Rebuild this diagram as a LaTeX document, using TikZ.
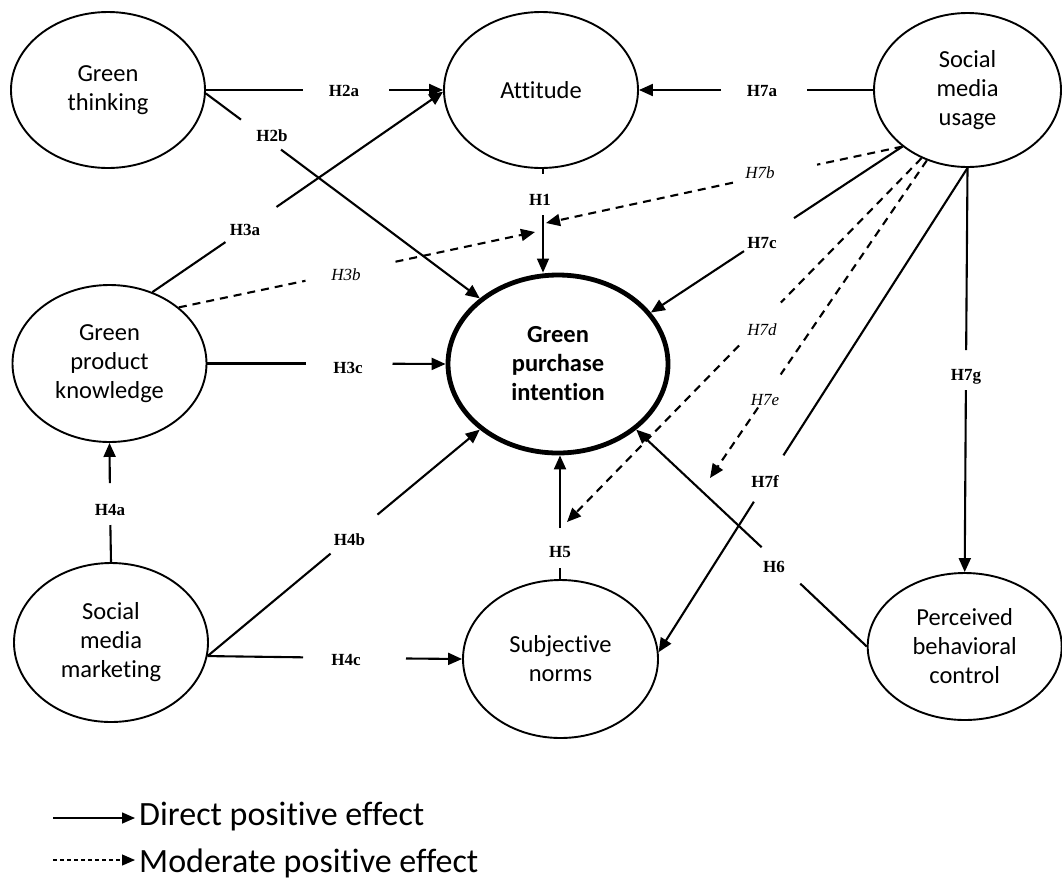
\documentclass[tikz,border=0pt]{standalone}
\usepackage{fontspec}
\setmainfont{Carlito}[Ligatures=NoCommon]
\newfontfamily\labfont{Liberation Serif}
\usetikzlibrary{arrows.meta,shapes.geometric}
\begin{document}
\begin{tikzpicture}[x=1pt,y=-1pt,
  cons/.style={draw, ellipse, line width=1.9pt, inner sep=0pt, align=center, font=\fontsize{24.5}{29}\selectfont},
  gapc/.style={circle, inner sep=0pt, outer sep=0pt, minimum size={2*#1pt}},
  lbl/.style={font=\labfont\bfseries\fontsize{17}{18}\selectfont, inner sep=0pt},
  lbli/.style={font=\labfont\itshape\fontsize{17}{18}\selectfont, inner sep=0pt},
  link/.style={line width=2.1pt},
  arr/.style={link, -{Triangle[length=14pt,width=12pt]}},
  dsh/.style={line width=2.1pt, dash pattern=on 8pt off 6pt},
  darr/.style={dsh, -{Triangle[length=14pt,width=12pt]}},
  legtxt/.style={anchor=base west, inner sep=0pt, font=\fontsize{34}{40}\selectfont}
]
\fill[white] (0,0) rectangle (1062,879);
\useasboundingbox (0,0) rectangle (1062,879);

% constructs
\node[cons, minimum width=194pt, minimum height=156pt] (gt) at (108,90) {Green\\thinking};
\node[cons, minimum width=194pt, minimum height=156pt] (att) at (541,90) {Attitude};
\node[cons, minimum width=187pt, minimum height=154pt] (smu) at (967.5,90) {Social\\media\\usage};
\node[cons, minimum width=194pt, minimum height=157pt] (gpk) at (109.5,363.5) {Green\\product\\knowledge};
\node[cons, line width=4.8pt, minimum width=220pt, minimum height=178pt, font={\fontsize{24.5}{29}\selectfont\bfseries}] (gpi) at (558,364) {Green\\purchase\\intention};
\node[cons, minimum width=194pt, minimum height=159pt] (smm) at (111,642.5) {Social\\media\\marketing};
\node[cons, minimum width=195pt, minimum height=158pt] (sn) at (560.5,659) {Subjective\\norms};
\node[cons, minimum width=194pt, minimum height=147pt] (pbc) at (964.7,646.5) {Perceived\\behavioral\\control};

% gaps in the connectors
\node[gapc=43] (g2a) at (346,90) {};
\node[gapc=25] (g2b) at (261,134.6) {};
\node[gapc=31] (g3a) at (251,224.6) {};
\node[gapc=46] (g3b) at (350.5,271.3) {};
\node[gapc=20.5] (g1) at (543,194.5) {};
\node[gapc=43] (g7a) at (764,90) {};
\node[gapc=43] (g7b) at (775,173.6) {};
\node[gapc=30] (g7c) at (769,234.6) {};
\node[gapc=30] (g7d) at (760,324) {};
\node[gapc=20] (g7e) at (769.4,391) {};
\node[gapc=27.5] (g7f) at (768.6,478.5) {};
\node[gapc=20] (g7g) at (966,370) {};
\node[gapc=43.5] (g3c) at (349,363.5) {};
\node[gapc=21] (g4a) at (110,504) {};
\node[gapc=30.5] (g4b) at (354,534.1) {};
\node[gapc=51.5] (g4c) at (354.5,658) {};
\node[gapc=20] (g5) at (560,548) {};
\node[gapc=26.5] (g6) at (781,565.4) {};

% labels
\node[lbl] (t2a) at (344,91) {H2a};
\node[lbl] (t2b) at (272,136) {H2b};
\node[lbl] (t3a) at (245,230) {H3a};
\node[lbli] (t3b) at (346,275) {H3b};
\node[lbl] (t1) at (540,200) {H1};
\node[lbl] (t7a) at (762,91) {H7a};
\node[lbli] (t7b) at (760,173) {H7b};
\node[lbl] (t7c) at (762,243) {H7c};
\node[lbli] (t7d) at (762,330) {H7d};
\node[lbli] (t7e) at (765,400) {H7e};
\node[lbl] (t7f) at (765,482) {H7f};
\node[lbl] (t7g) at (966,377) {H7g};
\node[lbl] (t3c) at (348,368) {H3c};
\node[lbl] (t4a) at (110,510) {H4a};
\node[lbl] (t4b) at (349.5,540) {H4b};
\node[lbl] (t4c) at (346,660) {H4c};
\node[lbl] (t5) at (560,552) {H5};
\node[lbl] (t6) at (774,567) {H6};

% moderation targets
\coordinate (m1a) at (535,232);
\coordinate (m1b) at (546,223);
\coordinate (m5) at (567,522);
\coordinate (m6) at (710,478);

% connectors
\draw[link] (gt.east) -- (g2a); \draw[arr] (g2a) -- (att.west);
\draw[link] (gt.-2) -- (g2b); \draw[arr] (g2b) -- (gpi.140);
\draw[link] (gpk.59) -- (g3a); \draw[arr] (g3a) -- (att.181);
\draw[dsh] (gpk.39) -- (g3b); \draw[darr] (g3b) -- (m1a);
\draw[link, line width=1.4pt] (g1 |- att.south) -- (g1);
\draw[arr, line width=1.4pt] (g1) -- (g1 |- gpi.north);
\draw[link] (smu.west) -- (g7a); \draw[arr] (g7a) -- (att.east);
\draw[dsh] (smu.221) -- (g7b); \draw[darr] (g7b) -- (m1b);
\draw[link] (smu.221) -- (g7c); \draw[arr] (g7c) -- (gpi.29);
\draw[dsh] (smu.236) -- (g7d); \draw[darr] (g7d) -- (m5);
\draw[dsh] (smu.240) -- (g7e); \draw[darr] (g7e) -- (m6);
\draw[link] (smu.south) -- (g7f); \draw[arr] (g7f) -- (sn.4);
\draw[link] (smu.south) -- (g7g); \draw[arr] (g7g) -- (pbc.north);
\draw[link] (gpk.east) -- (g3c); \draw[arr] (g3c) -- (gpi.west);
\draw[link] (smm.north) -- (g4a); \draw[arr] (g4a) -- (gpk.south);
\draw[link] (smm.-8.5) -- (g4b); \draw[arr] (g4b) -- (gpi.220);
\draw[link] (smm.-8.5) -- (g4c); \draw[arr] (g4c) -- (sn.west);
\draw[link] (g5 |- sn.north) -- (g5); \draw[arr] (g5) -- (g5 |- gpi.south);
\draw[link] (pbc.west) -- (g6); \draw[arr] (g6) -- (gpi.-40);

% legend
\coordinate (l1a) at (53,818); \coordinate (l1b) at (135,818);
\coordinate (l2a) at (53,860); \coordinate (l2b) at (135,860);
\draw[line width=1.5pt, -{Triangle[length=13pt,width=11pt]}] (l1a) -- (l1b);
\draw[line width=1.2pt, dash pattern=on 4pt off 3pt, -{Triangle[length=13pt,width=11pt]}] (l2a) -- (l2b);
\node[legtxt] (leg1) at (139,825) {Direct positive effect};
\node[legtxt] (leg2) at (139,872) {Moderate positive effect};
\end{tikzpicture}
\end{document}
